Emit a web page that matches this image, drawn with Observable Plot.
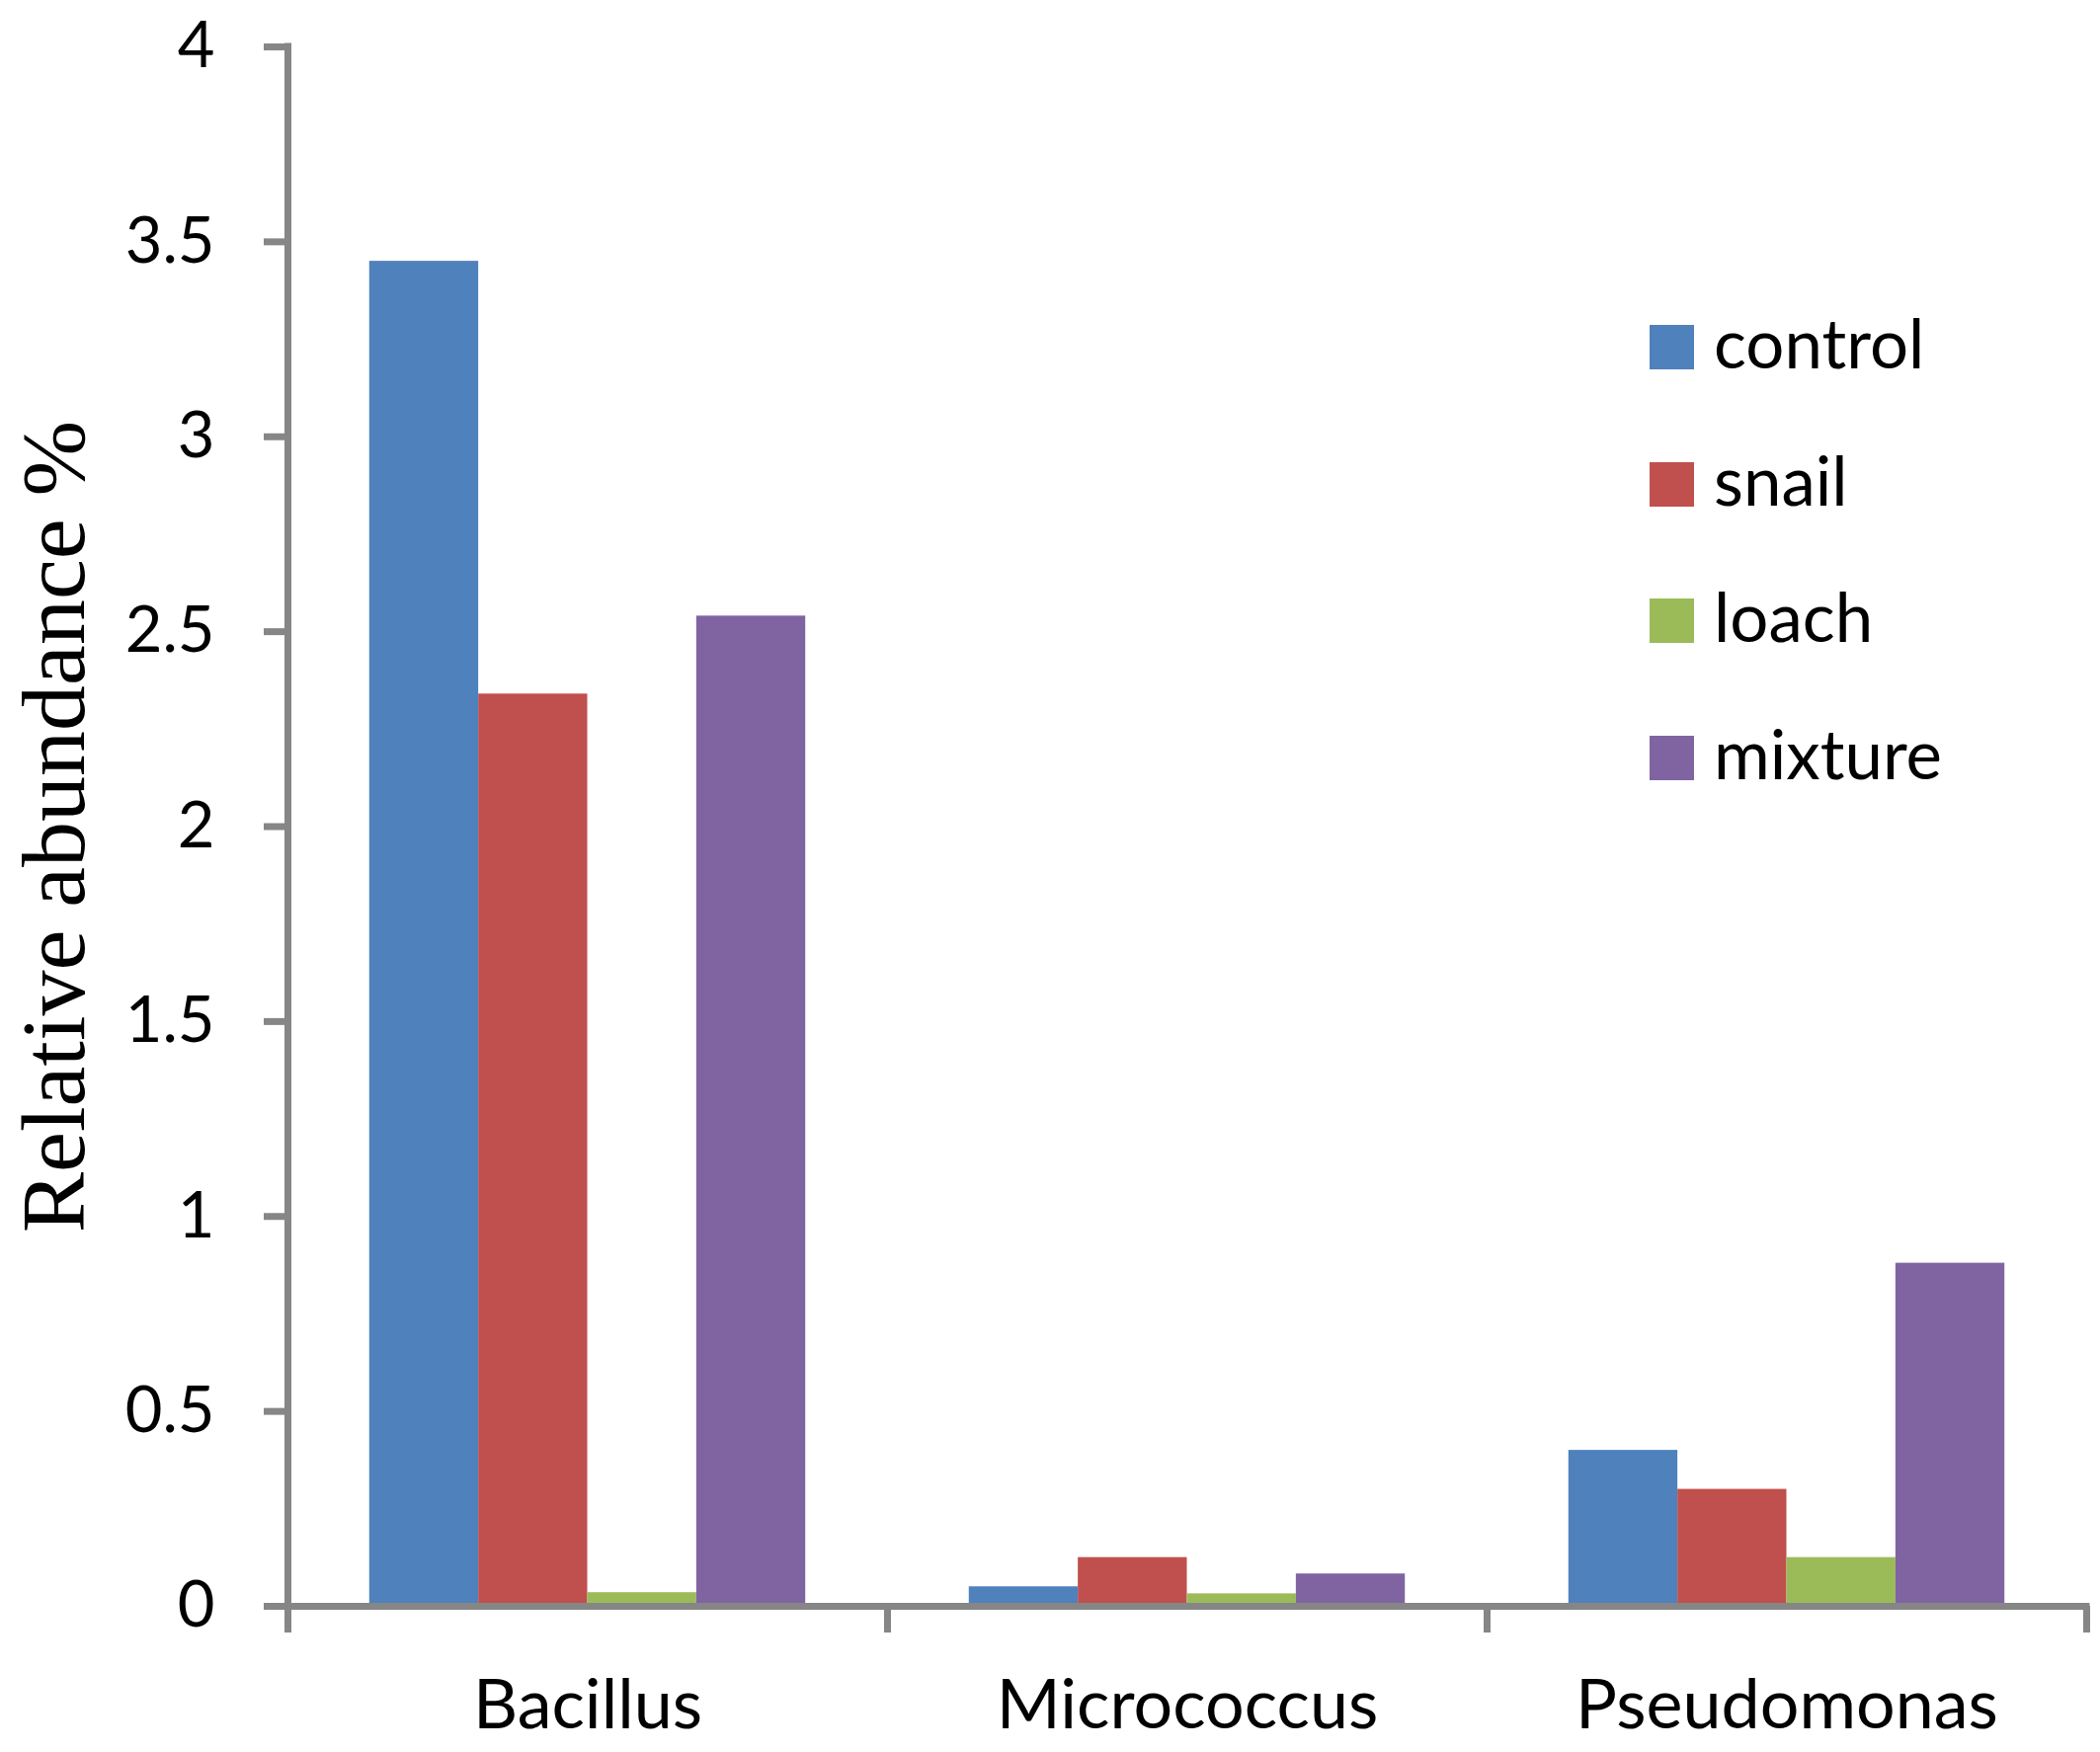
<!DOCTYPE html>
<html>
<head>
<meta charset="utf-8">
<script src="https://cdn.jsdelivr.net/npm/d3@7"></script>
<script src="https://cdn.jsdelivr.net/npm/@observablehq/plot@0.6"></script>
<style>
  html, body { margin: 0; padding: 0; background: #fff; overflow: hidden; }
  #wrap { position: relative; width: 2126px; height: 1774px; }
  #wrap svg { display: block; max-width: none; }
  #legend { position: absolute; left: 1670px; top: 0; font-family: Lato, sans-serif; color: #000; }
  .row { position: absolute; left: 0; height: 45px; display: flex; align-items: center; white-space: nowrap; }
  .sw { width: 45px; height: 45px; flex: none; }
  .lb { margin-left: 20px; font-size: 69px; line-height: 45px; position: relative; top: -5px; }
</style>
</head>
<body>
<div id="wrap"></div>
<script>
// ---- data ----
const categories = ["Bacillus", "Micrococcus", "Pseudomonas"];
const series = ["control", "snail", "loach", "mixture"];
const control = [3.45, 0.05, 0.40];
const snail = [2.34, 0.125, 0.30];
const loach = [0.035, 0.032, 0.125];
const mixture = [2.54, 0.083, 0.88];
const yTicks = [0, 0.5, 1, 1.5, 2, 2.5, 3, 3.5, 4];
const yTickLabels = ["0", "0.5", "1", "1.5", "2", "2.5", "3", "3.5", "4"];
const colors = ["#4F81BD", "#C0504D", "#9BBB59", "#8064A2"];
const yLabel = "Relative abundance %";

const values = {control, snail, loach, mixture};
const gap = 1.5; // Excel gap width (150%) relative to bar width
const slots = series.length + gap;
const rows = categories.flatMap((c, i) =>
  series.map((s, j) => ({category: c, ci: i, series: s, sj: j, value: values[s][i]}))
);

const axisGrey = "#868686";
const width = 2126, height = 1774;

const chart = Plot.plot({
  width, height,
  marginLeft: 291, marginRight: 14, marginTop: 47, marginBottom: 148,
  style: {fontFamily: "Lato, sans-serif", background: "#fff", color: "#000"},
  x: {domain: [0, categories.length], axis: null},
  y: {domain: [0, 4], axis: null},
  color: {domain: series, range: colors},
  marks: [
    Plot.rect(rows, {
      x1: d => d.ci + (gap / 2 + d.sj) / slots,
      x2: d => d.ci + (gap / 2 + d.sj + 1) / slots,
      y1: 0,
      y2: "value",
      fill: "series"
    }),
    Plot.ruleY([0], {stroke: axisGrey, strokeWidth: 7, strokeLinecap: "square"}),
    Plot.ruleX([0], {stroke: axisGrey, strokeWidth: 7, strokeLinecap: "square"}),
    Plot.axisY({
      ticks: yTicks, tickSize: 24, tickPadding: 50,
      tickFormat: d => yTickLabels[yTicks.indexOf(d)],
      stroke: axisGrey, strokeWidth: 7, fill: "#000",
      fontSize: 65, label: null
    }),
    Plot.axisX({
      ticks: d3.range(categories.length + 1), tickSize: 27,
      tickFormat: () => "", stroke: axisGrey, strokeWidth: 7, label: null
    }),
    Plot.axisX({
      ticks: categories.map((c, i) => i + 0.5), tickSize: 0, tickPadding: 74,
      tickFormat: d => categories[Math.floor(d)], fill: "#000",
      fontSize: 70, label: null
    }),
    Plot.text([yLabel], {
      frameAnchor: "left", rotate: -90, dx: -207,
      lineAnchor: "bottom", textAnchor: "middle",
      fontSize: 92, fontFamily: "Liberation Serif, serif", fill: "#000"
    })
  ]
});

const wrap = document.getElementById("wrap");
wrap.appendChild(chart);

// legend
const legend = d3.select(wrap).append("div").attr("id", "legend");
const rowTop = 329, rowStep = 138.5;
series.forEach((s, i) => {
  const r = legend.append("div").attr("class", "row").style("top", (rowTop + i * rowStep) + "px");
  r.append("div").attr("class", "sw").style("background", colors[i]);
  r.append("span").attr("class", "lb").text(s);
});
</script>
</body>
</html>
